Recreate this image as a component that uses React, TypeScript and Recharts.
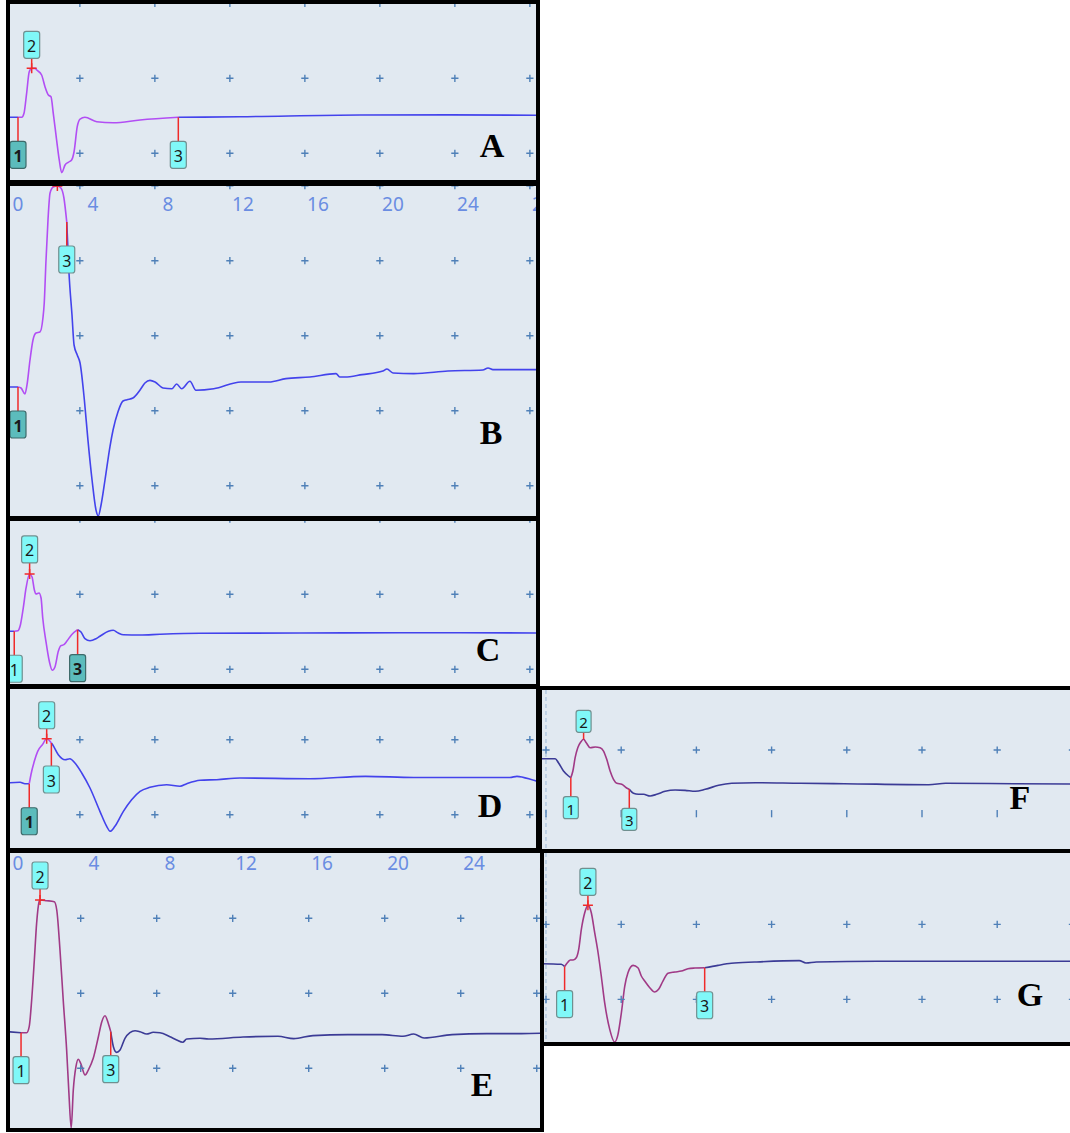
import React from "react";
import { ComposedChart, Line, Scatter, XAxis, YAxis, ReferenceLine } from "recharts";

// traces as [time ms, amplitude] pairs
const WAVE_A: [number, number][] = [
  [-0.55, -5.2], [0.0, -5.2], [0.2, -5.2], [0.32, -4.67], [0.46, -2.0], [0.6, 0.88], [0.73, 1.33],
  [0.91, 1.33], [1.0, 1.11], [1.26, 0.44], [1.44, -1.12], [1.62, -2.23], [1.76, -2.45], [1.88, -4.63],
  [2.06, -8.23], [2.2, -10.89], [2.33, -12.59], [2.51, -11.56], [2.68, -11.2], [2.86, -10.89],
  [2.99, -9.79], [3.16, -6.45], [3.31, -5.43], [3.57, -5.2], [4.2, -5.79], [5.08, -5.92],
  [6.51, -5.56], [8.55, -5.2], [11.84, -5.12], [18.24, -4.89], [23.04, -4.87], [28.3, -4.93],
];
const WAVE_B: [number, number][] = [
  [-0.55, -6.84], [0.0, -6.84], [0.16, -6.97], [0.37, -7.77], [0.48, -6.57], [0.64, -3.24],
  [0.8, -0.57], [0.96, 0.36], [1.17, 0.49], [1.33, 2.36], [1.4, 4.36], [1.49, 9.83], [1.6, 15.43],
  [1.71, 19.03], [1.88, 19.83], [2.1, 19.96], [2.29, 19.69], [2.45, 18.36], [2.6, 15.16],
  [2.72, 8.36], [2.88, 2.76], [2.99, -1.24], [3.16, -2.57], [3.31, -3.64], [3.54, -8.57],
  [3.73, -13.89], [3.95, -19.24], [4.16, -23.24], [4.28, -24.04], [4.43, -22.57], [4.64, -19.24],
  [4.91, -14.71], [5.07, -12.57], [5.33, -10.17], [5.6, -8.71], [5.81, -8.53], [6.13, -8.31],
  [6.51, -7.24], [6.77, -6.31], [7.04, -5.95], [7.31, -6.17], [7.73, -6.97], [8.21, -7.07],
  [8.46, -6.44], [8.73, -7.07], [9.17, -6.08], [9.49, -7.28], [10.44, -7.08], [11.89, -6.17],
  [13.39, -6.17], [14.29, -5.72], [15.57, -5.51], [16.96, -5.05], [17.16, -5.51], [17.43, -5.51],
  [18.35, -5.19], [19.46, -4.71], [19.68, -4.44], [20.0, -4.97], [21.11, -5.05], [22.93, -4.71],
  [24.79, -4.57], [25.07, -4.31], [25.33, -4.52], [28.3, -4.52],
];
const WAVE_C: [number, number][] = [
  [-0.55, -4.93], [-0.2, -4.93], [0.0, -4.85], [0.11, -4.27], [0.28, -1.83], [0.43, 0.84],
  [0.62, 2.71], [0.75, 2.31], [0.87, 0.61], [0.96, 0.04], [1.12, 0.17], [1.23, -0.49],
  [1.32, -3.16], [1.49, -6.27], [1.67, -8.93], [1.83, -10.13], [1.97, -9.69], [2.15, -7.6],
  [2.29, -6.85], [2.45, -6.72], [2.6, -6.27], [2.86, -5.39], [3.18, -4.72], [3.36, -5.03],
  [3.57, -5.92], [3.84, -6.19], [4.16, -5.92], [4.37, -5.6], [4.82, -4.93], [5.08, -4.8],
  [5.35, -5.16], [5.62, -5.39], [6.51, -5.43], [7.57, -5.33], [9.71, -5.2], [15.04, -5.16],
  [20.37, -5.12], [28.3, -5.16],
];
const WAVE_D: [number, number][] = [
  [-0.55, -5.77], [0.11, -5.68], [0.37, -5.87], [0.6, -5.87], [0.69, -4.67], [0.87, -2.88],
  [1.05, -1.55], [1.3, -0.67], [1.53, 0.13], [1.78, -0.44], [1.85, -0.67], [2.15, -2.0],
  [2.51, -2.67], [2.77, -2.53], [3.04, -3.11], [3.4, -4.44], [3.84, -6.44], [4.37, -9.55],
  [4.73, -11.55], [4.91, -12.21], [5.17, -11.55], [5.62, -9.55], [6.06, -8.0], [6.51, -6.88],
  [7.04, -6.35], [7.93, -6.0], [8.64, -6.21], [9.0, -5.87], [9.71, -5.41], [10.6, -5.33],
  [11.84, -5.11], [15.57, -5.21], [18.53, -4.89], [21.11, -5.03], [26.24, -5.03], [26.61, -4.89],
  [27.68, -5.51], [28.3, -5.7],
];
const WAVE_E: [number, number][] = [
  [-0.55, -5.12], [0.16, -5.25], [0.46, -5.25], [0.59, -4.45], [0.72, -0.89], [0.86, 4.44],
  [0.98, 9.33], [1.11, 12.21], [1.16, 12.44], [1.51, 12.35], [1.91, 12.21], [2.04, 11.11],
  [2.21, 5.77], [2.38, -0.89], [2.56, -7.56], [2.68, -13.33], [2.8, -18.0], [2.91, -12.89],
  [3.05, -9.79], [3.17, -8.8], [3.3, -9.33], [3.53, -10.89], [3.7, -10.23], [3.96, -8.67],
  [4.23, -5.79], [4.41, -3.79], [4.58, -2.99], [4.75, -4.0], [4.88, -5.12], [5.02, -7.12],
  [5.19, -7.87], [5.37, -7.56], [5.63, -6.0], [5.89, -5.25], [6.16, -4.99], [6.42, -5.12],
  [6.77, -5.43], [7.12, -5.2], [7.47, -5.25], [8.0, -5.79], [8.35, -6.23], [8.67, -6.53],
  [8.88, -6.09], [9.58, -6.0], [10.03, -6.09], [11.84, -5.83], [13.68, -5.73], [14.51, -6.04],
  [15.52, -5.64], [17.35, -5.51], [19.16, -5.51], [20.26, -5.73], [20.82, -5.43], [21.37, -5.96],
  [22.84, -5.51], [24.66, -5.37], [26.49, -5.37], [28.1, -5.29],
];
const WAVE_F: [number, number][] = [
  [-0.35, -1.37], [0.49, -1.37], [0.66, -1.99], [0.93, -3.3], [1.2, -4.08], [1.32, -4.35],
  [1.43, -3.3], [1.55, -1.21], [1.69, 0.36], [1.85, 1.26], [2.0, 1.68], [2.14, 1.15], [2.35, 0.36],
  [2.62, 0.47], [2.88, 0.36], [3.06, -0.16], [3.23, -1.46], [3.41, -3.3], [3.59, -4.6],
  [3.77, -5.23], [4.03, -5.38], [4.27, -5.92], [4.43, -6.17], [4.65, -6.8], [4.92, -6.95],
  [5.19, -6.95], [5.54, -7.22], [5.89, -6.95], [6.34, -6.48], [6.87, -6.28], [7.4, -6.33],
  [7.94, -6.48], [8.47, -6.17], [9.18, -5.54], [9.88, -5.23], [11.13, -5.13], [13.54, -5.23],
  [15.85, -5.29], [20.36, -5.45], [21.26, -5.23], [24.87, -5.29], [28.2, -5.34],
];
const WAVE_G: [number, number][] = [
  [-0.35, -5.25], [0.81, -5.33], [0.99, -5.63], [1.17, -5.03], [1.29, -4.76], [1.44, -4.76],
  [1.61, -4.45], [1.74, -3.33], [1.88, -0.67], [2.06, 1.55], [2.23, 2.53], [2.41, 1.55],
  [2.59, -1.12], [2.77, -3.79], [2.94, -6.89], [3.12, -10.45], [3.39, -14.0], [3.65, -15.69],
  [3.83, -14.67], [4.01, -11.79], [4.19, -8.23], [4.36, -6.45], [4.63, -5.47], [4.89, -5.79],
  [5.07, -6.89], [5.25, -7.56], [5.52, -8.45], [5.78, -9.03], [5.99, -8.67], [6.22, -7.56],
  [6.49, -6.53], [6.85, -6.36], [7.2, -6.23], [7.55, -5.92], [7.91, -5.83], [8.44, -5.79],
  [9.15, -5.47], [9.86, -5.2], [11.1, -5.03], [13.47, -4.84], [13.83, -5.16], [14.38, -5.03],
  [17.62, -4.93], [28.2, -4.93],
];

// cursors 1, 2, 3 as [time, amplitude]
const MARKS_A: [number, number][] = [[0.0, -5.2], [0.73, 1.33], [8.55, -5.2]];
const MARKS_B: [number, number][] = [[0.0, -6.84], [2.1, 19.96], [2.6, 15.16]];
const MARKS_C: [number, number][] = [[-0.2, -4.93], [0.62, 2.71], [3.18, -4.72]];
const MARKS_D: [number, number][] = [[0.6, -5.87], [1.53, 0.13], [1.78, -0.44]];
const MARKS_E: [number, number][] = [[0.16, -5.25], [1.16, 12.44], [4.88, -5.12]];
const MARKS_F: [number, number][] = [[1.32, -4.35], [2.0, 1.68], [4.43, -6.17]];
const MARKS_G: [number, number][] = [[0.99, -5.63], [2.23, 2.53], [8.44, -5.79]];

const X_TICKS = [0, 4, 8, 12, 16, 20, 24, 28];
const GRID_X_LEFT = [3.3, 7.3, 11.3, 15.3, 19.3, 23.3, 27.3];
const GRID_X_RIGHT = [0, 4, 8, 12, 16, 20, 24, 28];

const RED = "#f02a2a";
const BG = "#e1e9f1";
const PLUS = "#4f80b8";
const VIOLET = { base: "#4343ec", seg: "#b24ef4" };
const PLUM = { base: "#3b3b96", seg: "#a03a86" };

type Look = { dir: number; stem: number; dark?: boolean; cross?: boolean; noLabel?: boolean };

const LOOK_STD: Look[] = [{ dir: 1, stem: 24 }, { dir: -1, stem: 10, cross: true }, { dir: 1, stem: 24 }];

const PANELS = [
  {
    id: "A", box: { x: 6, y: 0, w: 534, h: 184 }, chart: { x: 8, y: 4, w: 540, h: 176 },
    xDom: [-0.533, 28.267], yDom: [-13.56, 9.91], wave: WAVE_A, marks: MARKS_A,
    gridX: GRID_X_LEFT, gridY: [10, 0, -10], tickRows: [] as number[], colors: VIOLET,
    look: [{ dir: 1, stem: 24, dark: true }, LOOK_STD[1], LOOK_STD[2]], box2: { w: 16, h: 27, fs: 16 },
    letter: { x: 492, y: 146 },
  },
  {
    id: "B", box: { x: 6, y: 182, w: 534, h: 338 }, chart: { x: 8, y: 186, w: 540, h: 330 },
    xDom: [-0.533, 28.267], yDom: [-24.04, 19.96], wave: WAVE_B, marks: MARKS_B,
    gridX: GRID_X_LEFT, gridY: [20, 10, 0, -10, -20], tickRows: [] as number[], colors: VIOLET,
    look: [{ dir: 1, stem: 24, dark: true }, { dir: -1, stem: 10, cross: true, noLabel: true }, LOOK_STD[2]],
    box2: { w: 16, h: 27, fs: 16 }, letter: { x: 491, y: 433 }, tickY: 18,
  },
  {
    id: "C", box: { x: 6, y: 517, w: 534, h: 171 }, chart: { x: 8, y: 521, w: 540, h: 163 },
    xDom: [-0.533, 28.267], yDom: [-11.96, 9.77], wave: WAVE_C, marks: MARKS_C,
    gridX: GRID_X_LEFT, gridY: [10, 0, -10], tickRows: [] as number[], colors: VIOLET,
    look: [{ dir: 1, stem: 24 }, { dir: -1, stem: 11, cross: true }, { dir: 1, stem: 25, dark: true }],
    box2: { w: 16, h: 27, fs: 16 }, letter: { x: 488, y: 650 },
  },
  {
    id: "D", box: { x: 6, y: 685, w: 534, h: 167 }, chart: { x: 8, y: 689, w: 540, h: 159 },
    xDom: [-0.533, 28.267], yDom: [-14.44, 6.76], wave: WAVE_D, marks: MARKS_D,
    gridX: GRID_X_LEFT, gridY: [0, -10], tickRows: [] as number[], colors: VIOLET,
    look: [{ dir: 1, stem: 24, dark: true }, LOOK_STD[1], { dir: 1, stem: 23 }],
    box2: { w: 16, h: 27, fs: 16 }, letter: { x: 490, y: 806 },
  },
  {
    id: "F", box: { x: 538, y: 686, w: 540, h: 167 }, chart: { x: 540, y: 690, w: 535, h: 159 },
    xDom: [-0.319, 28.138], yDom: [-15.54, 9.42], wave: WAVE_F, marks: MARKS_F,
    gridX: GRID_X_RIGHT, gridY: [10, 0], tickRows: [-10], colors: PLUM, zeroLine: true,
    look: [{ dir: 1, stem: 19 }, { dir: -1, stem: 7 }, { dir: 1, stem: 19 }],
    box2: { w: 15, h: 22, fs: 15 }, letter: { x: 1020, y: 798 },
  },
  {
    id: "G", box: { x: 538, y: 849, w: 540, h: 197 }, chart: { x: 540, y: 853, w: 535, h: 189 },
    xDom: [-0.319, 28.138], yDom: [-15.69, 9.51], wave: WAVE_G, marks: MARKS_G,
    gridX: GRID_X_RIGHT, gridY: [10, 0, -10], tickRows: [] as number[], colors: PLUM, zeroLine: true,
    look: LOOK_STD, box2: { w: 16, h: 27, fs: 16 }, letter: { x: 1030, y: 995 },
  },
  {
    id: "E", box: { x: 6, y: 849, w: 538, h: 283 }, chart: { x: 8, y: 853, w: 543, h: 275 },
    xDom: [-0.526, 28.05], yDom: [-17.96, 18.71], wave: WAVE_E, marks: MARKS_E,
    gridX: GRID_X_LEFT, gridY: [10, 0, -10], tickRows: [] as number[], colors: PLUM,
    look: [{ dir: 1, stem: 24 }, { dir: -1, stem: 11, cross: true }, { dir: 1, stem: 24 }],
    box2: { w: 16, h: 27, fs: 16 }, letter: { x: 482, y: 1085 }, tickY: 9.5,
  },
];

function splitWave(wave: [number, number][], m1: number, m3: number) {
  return wave.map(([t, v]) => ({
    t,
    base: t <= m1 || t >= m3 ? v : null,
    seg: t >= m1 && t <= m3 ? v : null,
  }));
}

const cross = (xs: number[], ys: number[]) => xs.flatMap((t) => ys.map((v) => ({ t, v })));

function PlusShape(props: any) {
  const { cx, cy } = props;
  if (cx == null || cy == null) return null;
  return (
    <path
      d={`M${cx - 3.6},${cy}H${cx + 3.6}M${cx},${cy - 3.6}V${cy + 3.6}`}
      stroke={PLUS}
      strokeWidth={1.4}
      fill="none"
    />
  );
}

function TickShape(props: any) {
  const { cx, cy } = props;
  if (cx == null || cy == null) return null;
  return <path d={`M${cx},${cy - 3.6}V${cy + 3.6}`} stroke={PLUS} strokeWidth={1.4} fill="none" />;
}

function MarkerShape(props: any) {
  const { cx, cy, payload, look, box } = props;
  if (cx == null || cy == null) return null;
  const lk: Look = look[payload.n - 1];
  const end = cy + lk.dir * lk.stem;
  const ry = lk.dir > 0 ? end : end - box.h;
  return (
    <g>
      <line x1={cx} y1={cy} x2={cx} y2={end} stroke={RED} strokeWidth={1.5} />
      {lk.cross && (
        <path d={`M${cx - 5},${cy}H${cx + 5}M${cx},${cy - 5}V${cy + 5}`} stroke={RED} strokeWidth={1.5} />
      )}
      {!lk.noLabel && (
        <rect
          x={cx - box.w / 2}
          y={ry}
          width={box.w}
          height={box.h}
          rx={2.5}
          fill={lk.dark ? "#5cbcbc" : "#80f8f8"}
          stroke={lk.dark ? "#3d6a6a" : "#708f8f"}
          strokeWidth={1.2}
        />
      )}
      {!lk.noLabel && (
        <text
          x={cx}
          y={ry + box.h / 2 + 1}
          dominantBaseline="central"
          textAnchor="middle"
          fontSize={box.fs}
          fontFamily="'Noto Sans', sans-serif"
          fontWeight={lk.dark ? 700 : 400}
          fill="#1a1a1a"
        >
          {payload.n}
        </text>
      )}
    </g>
  );
}

function Panel({ p }: { p: (typeof PANELS)[number] }) {
  const data = splitWave(p.wave, p.marks[0][0], p.marks[2][0]);
  const marks = p.marks.map(([t, v], i) => ({ t, v, n: i + 1 }));
  const grid = cross(p.gridX, p.gridY);
  const ticks = cross(p.gridX, p.tickRows);
  const ox = p.box.x + 4;
  const oy = p.box.y + 4;
  const tickY = (p as any).tickY as number | undefined;

  return (
    <div
      style={{
        position: "absolute",
        left: p.box.x,
        top: p.box.y,
        width: p.box.w,
        height: p.box.h,
        boxSizing: "border-box",
        border: "4px solid #000",
        background: BG,
        overflow: "hidden",
      }}
    >
      <div style={{ position: "absolute", left: p.chart.x - ox, top: p.chart.y - oy }}>
        <ComposedChart width={p.chart.w} height={p.chart.h} margin={{ top: 0, right: 0, bottom: 0, left: 0 }}>
          <XAxis
            type="number"
            dataKey="t"
            domain={p.xDom}
            allowDataOverflow
            hide={tickY == null}
            orientation="top"
            mirror
            ticks={X_TICKS}
            interval={0}
            axisLine={false}
            tickLine={false}
            tick={(tp: any) => (
              <text
                key={tp.index}
                x={tp.x}
                y={tickY}
                dominantBaseline="central"
                textAnchor="middle"
                fontSize={19}
                fontFamily="'Noto Sans', sans-serif"
                fill="#6a8de2"
              >
                {tp.payload.value}
              </text>
            )}
          />
          <YAxis type="number" domain={p.yDom} allowDataOverflow hide />
          {(p as any).zeroLine && (
            <ReferenceLine x={0} stroke="#9dbad8" strokeDasharray="4 3" strokeWidth={1} ifOverflow="hidden" />
          )}
          <Scatter data={grid} dataKey="v" shape={PlusShape} isAnimationActive={false} />
          {ticks.length > 0 && <Scatter data={ticks} dataKey="v" shape={TickShape} isAnimationActive={false} />}
          <Line
            data={data}
            dataKey="base"
            type="monotone"
            stroke={p.colors.base}
            strokeWidth={1.6}
            dot={false}
            activeDot={false}
            connectNulls={false}
            isAnimationActive={false}
          />
          <Line
            data={data}
            dataKey="seg"
            type="monotone"
            stroke={p.colors.seg}
            strokeWidth={1.6}
            dot={false}
            activeDot={false}
            connectNulls={false}
            isAnimationActive={false}
          />
          <Scatter
            data={marks}
            dataKey="v"
            shape={(sp: any) => <MarkerShape {...sp} look={p.look} box={p.box2} />}
            isAnimationActive={false}
          />
        </ComposedChart>
      </div>
      <div
        style={{
          position: "absolute",
          left: p.letter.x - ox,
          top: p.letter.y - oy,
          transform: "translate(-50%, -50%)",
          fontFamily: "'Liberation Serif', 'Times New Roman', serif",
          fontWeight: 700,
          fontSize: 34,
          lineHeight: 1,
          color: "#000",
        }}
      >
        {p.id}
      </div>
    </div>
  );
}

export default function App() {
  return (
    <div
      style={{
        position: "absolute",
        left: 0,
        top: 0,
        width: 1070,
        height: 1133,
        overflow: "hidden",
        background: "#fff",
      }}
    >
      {PANELS.map((p) => (
        <Panel key={p.id} p={p} />
      ))}
    </div>
  );
}
